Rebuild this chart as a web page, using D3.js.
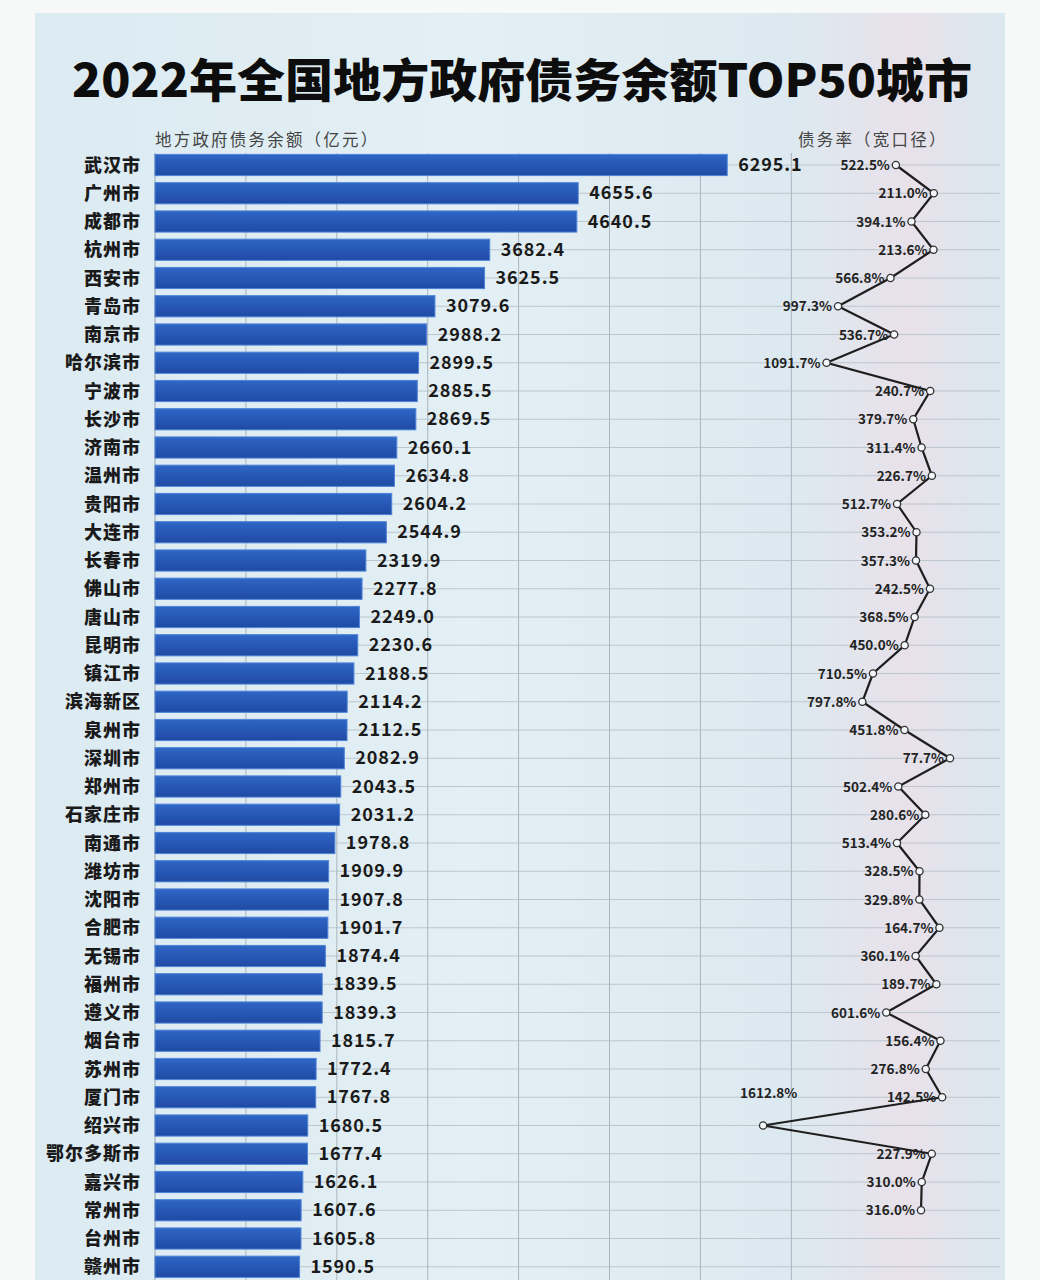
<!DOCTYPE html>
<html><head><meta charset="utf-8">
<script src="https://cdn.jsdelivr.net/npm/d3@7/dist/d3.min.js"></script>
<style>
html,body{margin:0;padding:0;background:#f7f8f8;}
svg{display:block;}
text{font-family:"Noto Sans CJK SC","Noto Sans",sans-serif;}
</style></head>
<body>
<svg id="chart" width="1040" height="1280"></svg>
<script>
const title = "2022年全国地方政府债务余额TOP50城市";
const debtLabel = "地方政府债务余额（亿元）";
const rateLabel = "债务率（宽口径）";
const cities = ["武汉市","广州市","成都市","杭州市","西安市","青岛市","南京市","哈尔滨市","宁波市","长沙市",
  "济南市","温州市","贵阳市","大连市","长春市","佛山市","唐山市","昆明市","镇江市","滨海新区",
  "泉州市","深圳市","郑州市","石家庄市","南通市","潍坊市","沈阳市","合肥市","无锡市","福州市",
  "遵义市","烟台市","苏州市","厦门市","绍兴市","鄂尔多斯市","嘉兴市","常州市","台州市","赣州市"];
const debt = [6295.1,4655.6,4640.5,3682.4,3625.5,3079.6,2988.2,2899.5,2885.5,2869.5,
  2660.1,2634.8,2604.2,2544.9,2319.9,2277.8,2249.0,2230.6,2188.5,2114.2,
  2112.5,2082.9,2043.5,2031.2,1978.8,1909.9,1907.8,1901.7,1874.4,1839.5,
  1839.3,1815.7,1772.4,1767.8,1680.5,1677.4,1626.1,1607.6,1605.8,1590.5];
const rates = [522.5,211.0,394.1,213.6,566.8,997.3,536.7,1091.7,240.7,379.7,
  311.4,226.7,512.7,353.2,357.3,242.5,368.5,450.0,710.5,797.8,
  451.8,77.7,502.4,280.6,513.4,328.5,329.8,164.7,360.1,189.7,
  601.6,156.4,276.8,142.5,1612.8,227.9,310.0,316.0,null,null];
const debtTicks = [0,1000,2000,3000,4000,5000,6000,7000];

const svg = d3.select("#chart");
const defs = svg.append("defs");
const bg = defs.append("linearGradient").attr("id","bg").attr("x1","0").attr("x2","1").attr("y1","0").attr("y2","0");
bg.append("stop").attr("offset","0").attr("stop-color","#dcebf2");
bg.append("stop").attr("offset","0.45").attr("stop-color","#e2eff4");
bg.append("stop").attr("offset","0.78").attr("stop-color","#dde9f0");
bg.append("stop").attr("offset","0.9").attr("stop-color","#e8e1ea");
bg.append("stop").attr("offset","1").attr("stop-color","#dae8ef");
const bar = defs.append("linearGradient").attr("id","bar").attr("x1","0").attr("x2","0").attr("y1","0").attr("y2","1");
bar.append("stop").attr("offset","0").attr("stop-color","#2f66c4");
bar.append("stop").attr("offset","0.5").attr("stop-color","#2758b6");
bar.append("stop").attr("offset","1").attr("stop-color","#1f4aa3");

svg.append("rect").attr("x",35).attr("y",13).attr("width",970).attr("height",1280).attr("fill","url(#bg)");

const step = 28.25;
const x = d3.scaleLinear().domain([0,7000]).range([155,791.3]);
const xr = d3.scaleLinear().domain([0,1800]).range([959.5,740.3]);
const y = d3.scaleBand().domain(cities).range([165-step/2,165-step/2+step*40]).paddingInner(0.25).paddingOuter(0.125);
const cy = c => y(c) + y.bandwidth()/2;

// title
svg.append("text").attr("x",522).attr("y",97).attr("text-anchor","middle")
  .attr("font-size",46).attr("font-weight",900).attr("fill","#0d0d0d").attr("textLength",900).attr("lengthAdjust","spacingAndGlyphs").text(title);
svg.append("text").attr("x",155).attr("y",146).attr("font-size",16.5).attr("letter-spacing",2.2).attr("fill","#444").text(debtLabel);
svg.append("text").attr("x",798).attr("y",146).attr("font-size",16.5).attr("letter-spacing",2.2).attr("fill","#444").text(rateLabel);

// gridlines
const g = svg.append("g");
g.selectAll("line.h").data(cities).join("line").attr("class","h")
  .attr("x1",155).attr("x2",1000).attr("y1",d=>cy(d)).attr("y2",d=>cy(d))
  .attr("stroke","#bcc6cd").attr("stroke-width",1);
g.selectAll("line.v").data(debtTicks).join("line").attr("class","v")
  .attr("x1",d=>x(d)).attr("x2",d=>x(d)).attr("y1",153).attr("y2",1280)
  .attr("stroke",d=>d===0?"#9aa6ae":"#aab4bb").attr("stroke-width",1);

// bars
svg.append("g").selectAll("rect").data(cities).join("rect")
  .attr("x",x(0)).attr("y",d=>y(d)).attr("height",y.bandwidth())
  .attr("width",(d,i)=>x(debt[i])-x(0))
  .attr("fill","url(#bar)").attr("stroke","#4f84d8").attr("stroke-width",1);

// value labels
svg.append("g").selectAll("text").data(cities).join("text")
  .attr("x",(d,i)=>x(debt[i])+11).attr("y",d=>cy(d)+6)
  .attr("font-size",18).attr("font-weight",700).attr("fill","#1a1a1a").attr("letter-spacing",0.9)
  .text((d,i)=>debt[i].toFixed(1));

// city labels
svg.append("g").selectAll("text").data(cities).join("text")
  .attr("x",141).attr("y",d=>cy(d)+6.5).attr("text-anchor","end")
  .attr("font-size",18).attr("font-weight",900).attr("fill","#1a1a1a").attr("letter-spacing",1)
  .text(d=>d);

// rate line
const pts = cities.map((c,i)=>({c, r:rates[i]})).filter(d=>d.r!==null);
const line = d3.line().x(d=>xr(d.r)).y(d=>cy(d.c));
svg.append("path").attr("d",line(pts)).attr("fill","none").attr("stroke","#1e1e1e").attr("stroke-width",2.2).attr("stroke-linejoin","miter");
svg.append("g").selectAll("circle").data(pts).join("circle")
  .attr("cx",d=>xr(d.r)).attr("cy",d=>cy(d.c)).attr("r",3.6)
  .attr("fill","#f4f7f9").attr("stroke","#333").attr("stroke-width",1.3);
svg.append("g").selectAll("text").data(pts).join("text")
  .attr("x",d=> d.r>1500 ? xr(d.r)-23 : xr(d.r)-6)
  .attr("y",d=> d.r>1500 ? cy(d.c)-28 : cy(d.c)+5)
  .attr("text-anchor",d=> d.r>1500 ? "start" : "end")
  .attr("font-size",13.5).attr("font-weight",700).attr("fill","#222")
  .text(d=>d.r.toFixed(1)+"%");
</script>
</body></html>
